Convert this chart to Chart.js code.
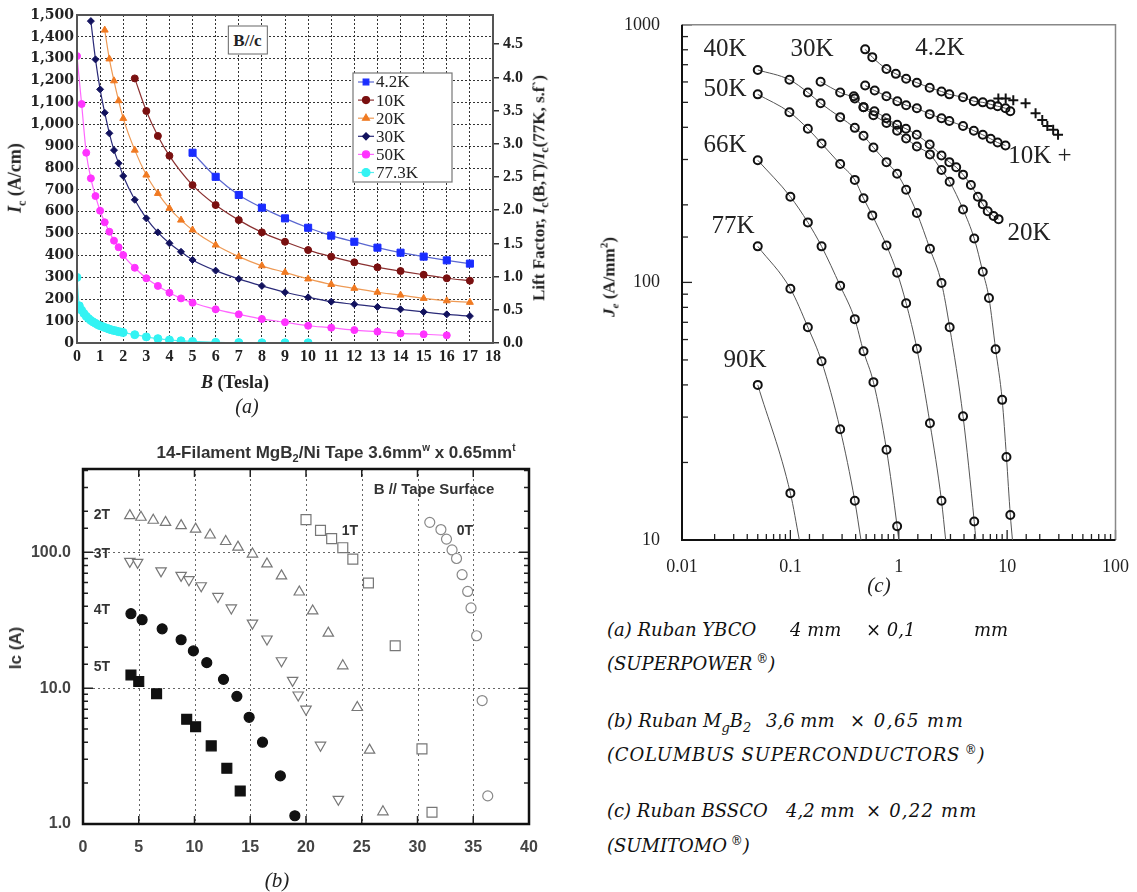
<!DOCTYPE html>
<html>
<head>
<meta charset="utf-8">
<script src="https://cdn.jsdelivr.net/npm/chart.js@4.4.1/dist/chart.umd.min.js"></script>
<style>
  body { margin: 0; background: #fff; width: 1137px; height: 892px; position: relative; overflow: hidden; }
  canvas { position: absolute; }
  .t { position: absolute; white-space: nowrap; transform: translate(-50%, -50%); line-height: 1; }
  .cap { position: absolute; white-space: nowrap; font-family: 'DejaVu Serif', serif; font-style: italic; font-size: 18px; color: #111; line-height: 1; }
</style>
</head>
<body>
<canvas id="chartA" width="590" height="400" style="left:0;top:0"></canvas>
<canvas id="chartB" width="560" height="440" style="left:0;top:440px"></canvas>
<canvas id="chartC" width="547" height="600" style="left:590px;top:0"></canvas>

<script>
// ---------- (a) YBCO tape: Ic (A/cm) vs B (Tesla), B//c ----------
const a42B  = [5,6,7,8,9,10,11,12,13,14,15,16,17];
const a42Ic = [870,760,677,619,570,527,491,463,436,413,395,378,363];
const a10B  = [2.5,3,3.5,4,5,6,7,8,9,10,11,12,13,14,15,16,17];
const a10Ic = [1210,1061,947,856,722,631,562,506,463,425,395,369,346,329,312,296,285];
const a20B  = [1.2,1.4,1.6,1.8,2,2.5,3,3.5,4,4.5,5,6,7,8,9,10,11,12,13,14,15,16,17];
const a20Ic = [1431,1299,1199,1108,1027,882,768,684,616,562,517,448,395,353,323,293,268,250,232,219,204,193,186];
const a30B  = [0.6,0.8,1,1.2,1.4,1.6,1.8,2,2.5,3,3.5,4,4.5,5,6,7,8,9,10,11,12,13,14,15,16,17];
const a30Ic = [1472,1297,1160,1053,959,882,822,764,655,570,506,456,417,380,331,293,261,232,209,189,177,165,154,142,131,123];
const a50B  = [0,0.2,0.4,0.6,0.8,1,1.2,1.4,1.6,1.8,2,2.5,3,3.5,4,4.5,5,6,7,8,9,10,11,12,13,14,15,16];
const a50Ic = [1312,1093,870,753,672,605,552,509,468,438,402,344,296,261,230,204,184,154,131,110,95,79,70,59,52,44,40,35];
const a77B  = [0,0.1,0.2,0.3,0.4,0.5,0.6,0.7,0.8,0.9,1,1.1,1.2,1.3,1.4,1.5,1.6,1.7,1.8,1.9,2,2.5,3,3.5,4,4.5,5,6,7,8,9,10];
const a77Ic = [300,170,150,135,122,112,103,96,90,84,79,75,71,67,63,60,57,55,52,50,48,38,28,20,14,10,7,3,2,1,1,1];
const aLiftTicks = [0,0.5,1,1.5,2,2.5,3,3.5,4,4.5];

// ---------- (b) MgB2 tape: Ic (A) vs temperature, one set per field ----------
const b2T_x  = [4.2,5.2,6.3,7.4,8.8,10.1,11.4,12.8,13.9,15.2,16.5,17.8,19.4,20.6,22.0,23.3,24.6,25.7,26.9];
const b2T_y  = [186,181,172,166,157,148,134,120,109,97,82,67,51,37,25.4,14.6,7.2,3.5,1.23];
const b3T_x  = [4.2,4.9,7.0,8.8,9.5,10.6,12.1,13.3,15.2,16.5,17.8,18.8,19.3,20.0,21.3,22.9];
const b3T_y  = [85.7,84.3,73,67.6,62.8,56.7,47.3,38.9,30.1,23,15.9,11.4,8.9,7.0,3.8,1.52];
const b4T_x  = [4.3,5.3,7.1,8.8,9.9,11.1,12.6,13.8,14.9,16.1,17.7,19.0];
const b4T_y  = [35.3,31.9,27.3,22.7,18.8,15.4,11.6,8.7,6.1,4.0,2.26,1.15];
const b5T_x  = [4.3,5.0,6.6,9.3,10.1,11.5,12.9,14.1];
const b5T_y  = [12.5,11.2,9.1,5.9,5.2,3.76,2.57,1.75];
const b1T_x  = [20.0,21.3,22.3,23.3,24.2,25.6,28.0,30.4,31.3];
const b1T_y  = [174,145,126,108,89,59.4,20.5,3.57,1.22];
const b0T_x  = [31.1,32.1,32.6,33.1,33.5,34.0,34.5,34.8,35.3,35.8,36.3];
const b0T_y  = [166,147,125,104,90,68.4,51.5,38.9,24.3,8.1,1.61];

// ---------- (c) BSCCO tape: Je (A/mm2) vs B, log-log ----------
const c42B  = [0.49,0.57,0.77,0.94,1.17,1.47,1.93,2.48,2.93,3.92,4.93,5.96,7.06,8.17,9.66,10.7];
const c42J  = [803,749,674,645,617,596,570,551,537,523,505,500,491,483,474,462];
const c42pB = [8.3,9.7,11.4,14.8,18.3,21.1,23.5,26.6,29.5];
const c42pJ = [518,518,509,496,454,427,405,391,374];
const c10B  = [0.49,0.6,0.77,0.97,1.17,1.47,1.93,2.48,2.93,3.92,4.93,5.96,7.05,8.17,9.66];
const c10J  = [581,556,528,505,487,474,450,434,423,405,388,374,361,349,340];
const c20B  = [0.385,0.473,0.596,0.767,0.966,1.165,1.466,1.93,2.48,2.93,3.39,3.92,4.63,5.37,5.96,6.62,7.5,8.34];
const c20J  = [528,479,462,434,409,395,374,343,311,293,280,262,239,215,201,189,181,176];
const c30B  = [0.19,0.288,0.393,0.473,0.584,0.771,0.966,1.17,1.47,1.94,2.48,2.95,3.92,4.97,5.96,6.8,7.83,9.0,9.86,10.7,11.2];
const c30J  = [601,546,518,479,446,416,388,362,337,314,273,246,192,148,110,87,55,35,21,12.5,10];
const c40B  = [0.05,0.098,0.145,0.19,0.288,0.393,0.473,0.584,0.771,0.966,1.17,1.47,1.94,2.48,2.95,3.92,4.97,5.15];
const c40J  = [668,612,546,496,438,398,371,334,293,264,229,186,135,99.5,67,30.2,11.8,10];
const c50B  = [0.05,0.098,0.145,0.194,0.288,0.393,0.473,0.57,0.771,0.966,1.17,1.47,1.94,2.48,2.71];
const c50J  = [537,458,395,346,288,250,212,182,139,109,83,55.3,28.4,14.2,10];
const c66B  = [0.05,0.1,0.145,0.194,0.288,0.393,0.473,0.584,0.771,0.966,1.0];
const c66J  = [298,215,171,138,97,72,54,41,22.4,11.3,10];
const c77B  = [0.05,0.1,0.145,0.194,0.288,0.393,0.448];
const c77J  = [138,94.5,67,49.4,26.9,14.2,10];
const c90B  = [0.05,0.1,0.121];
const c90J  = [40,15.2,10];

const SERIF = "'Liberation Serif', 'Times New Roman', serif";
const SANS = "'Liberation Sans', Arial, sans-serif";

function pts(xs, ys) { return xs.map((x, i) => ({ x: x, y: ys[i] })); }

// overlay text helper (centered on x,y, page coords)
function addText(html, x, y, css, rot) {
  const d = document.createElement('div');
  d.className = 't';
  d.innerHTML = html;
  d.style.left = x + 'px';
  d.style.top = y + 'px';
  d.style.cssText += ';' + (css || '');
  if (rot) d.style.transform = 'translate(-50%,-50%) rotate(' + rot + 'deg)';
  document.body.appendChild(d);
}

// ================= chart (a) =================
function serA(label, xs, ys, mark, line, style, r) {
  return {
    label: label, data: pts(xs, ys), yAxisID: 'y',
    borderColor: line, borderWidth: 1.2, backgroundColor: mark,
    pointStyle: style, pointRadius: r, pointBorderColor: mark, pointBackgroundColor: mark,
    pointBorderWidth: 1, cubicInterpolationMode: 'monotone', fill: false
  };
}
const setsA = [
  serA('4.2K', a42B, a42Ic, '#1a2dff', '#5a67d0', 'rect', 5),
  serA('10K', a10B, a10Ic, '#7a1010', '#8a3030', 'circle', 3.5),
  serA('20K', a20B, a20Ic, '#f07a22', '#ee9a55', 'triangle', 4),
  serA('30K', a30B, a30Ic, '#12125e', '#2a2a78', 'rectRot', 3.5),
  serA('50K', a50B, a50Ic, '#ff33ff', '#ff66ff', 'circle', 3.5),
  serA('77.3K', a77B, a77Ic, '#33f3f3', '#55eeee', 'circle', 4)
];

const decorA = {
  id: 'decorA',
  afterDraw(chart) {
    const ctx = chart.ctx, a = chart.chartArea;
    ctx.save();
    ctx.strokeStyle = '#555'; ctx.lineWidth = 2;
    ctx.strokeRect(a.left, a.top, a.right - a.left, a.bottom - a.top);
    // legend box
    const lx = 353, ly = 73, lw = 99, lh = 109;
    ctx.fillStyle = '#fff'; ctx.fillRect(lx, ly, lw, lh);
    ctx.strokeStyle = '#777'; ctx.lineWidth = 1.2; ctx.strokeRect(lx, ly, lw, lh);
    ctx.font = '17px ' + SERIF; ctx.textBaseline = 'middle';
    chart.data.datasets.forEach((ds, i) => {
      const y = 82 + i * 18.1;
      ctx.strokeStyle = ds.borderColor; ctx.lineWidth = 1.2;
      ctx.beginPath(); ctx.moveTo(358, y); ctx.lineTo(374, y); ctx.stroke();
      ctx.fillStyle = ds.pointBackgroundColor; ctx.strokeStyle = ds.pointBorderColor;
      Chart.helpers.drawPoint(ctx, { pointStyle: ds.pointStyle, radius: Math.min(ds.pointRadius, 4), borderWidth: 1 }, 366, y);
      ctx.fillStyle = '#222';
      ctx.fillText(ds.label, 376, y + 1);
    });
    ctx.restore();
  }
};

new Chart(document.getElementById('chartA'), {
  type: 'line',
  data: { datasets: setsA },
  options: {
    responsive: false, animation: false,
    layout: { padding: { top: 15, left: 0, right: 0, bottom: 0 } },
    plugins: { legend: { display: false }, tooltip: { enabled: false } },
    scales: {
      x: {
        type: 'linear', min: 0, max: 18,
        ticks: { stepSize: 1, autoSkip: false, maxRotation: 0, padding: 4, color: '#222',
                 font: { family: SERIF, weight: 'bold', size: 16 } },
        grid: { color: '#333', lineWidth: 1, drawTicks: false },
        border: { display: false, dash: [2, 2] },
        afterFit: s => { s.height = 57; }
      },
      y: {
        position: 'left', min: 0, max: 1500,
        ticks: { stepSize: 100, autoSkip: false, padding: 3, color: '#222',
                 font: { family: "'DejaVu Serif', serif", weight: 'bold', size: 14 },
                 callback: v => v.toLocaleString('en-US') },
        grid: { color: '#333', lineWidth: 1, drawTicks: false },
        border: { display: false, dash: [2, 2] },
        afterFit: s => { s.width = 77; }
      },
      y2: {
        position: 'right', min: 0, max: 4.94, display: true,
        afterBuildTicks: s => { s.ticks = aLiftTicks.map(v => ({ value: v })); },
        ticks: { autoSkip: false, padding: 4, color: '#222',
                 font: { family: SERIF, weight: 'bold', size: 16 },
                 callback: v => Number(v).toFixed(1) },
        grid: { drawOnChartArea: false, drawTicks: true, tickLength: 6, color: '#333', lineWidth: 1.5 },
        border: { display: false },
        afterFit: s => { s.width = 97; }
      }
    }
  },
  plugins: [decorA]
});

addText('B//c', 247.5, 39.5, "font:bold 17px " + SERIF + ";border:1.5px solid #666;padding:4px 5px 3px;color:#222;background:#fff");
addText('<i>I</i><sub style="font-size:12px">c</sub> (A/cm)', 17, 178, "font:bold 18px " + SERIF + ";color:#222", -90);
addText('Lift Factor, <i>I</i><sub style="font-size:12px">c</sub>(B,T)/<i>I</i><sub style="font-size:12px">c</sub>(77K, s.f`)', 541, 188, "font:bold 17px " + SERIF + ";color:#222", -90);
addText('<i>B</i> (Tesla)', 235, 382, "font:bold 18px " + SERIF + ";color:#222");
addText('<i>(a)</i>', 247, 406, "font:20px " + SERIF + ";color:#222");

// ================= chart (b) =================
function serB(label, xs, ys, style, rot, r, fill, stroke) {
  return {
    label: label, data: pts(xs, ys), showLine: false,
    pointStyle: style, pointRotation: rot, pointRadius: r,
    pointBackgroundColor: fill, pointBorderColor: stroke, pointBorderWidth: 1.2
  };
}
const setsB = [
  serB('2T', b2T_x, b2T_y, 'triangle', 0, 6, '#fff', '#777'),
  serB('3T', b3T_x, b3T_y, 'triangle', 180, 6, '#fff', '#777'),
  serB('4T', b4T_x, b4T_y, 'circle', 0, 5, '#111', '#111'),
  serB('5T', b5T_x, b5T_y, 'rect', 0, 7, '#111', '#111'),
  serB('1T', b1T_x, b1T_y, 'rect', 0, 7, '#fff', '#777'),
  serB('0T', b0T_x, b0T_y, 'circle', 0, 5, '#fff', '#888')
];
const isDecade = v => { const l = Math.log10(v); return Math.abs(l - Math.round(l)) < 1e-6; };

const decorB = {
  id: 'decorB',
  beforeDatasetsDraw(chart) {
    const ctx = chart.ctx, a = chart.chartArea, xs = chart.scales.x, ys = chart.scales.y;
    ctx.save();
    ctx.strokeStyle = '#666'; ctx.lineWidth = 1; ctx.setLineDash([2, 3]);
    xs.ticks.forEach(t => {
      if (t.value <= 0 || t.value >= 40) return;
      const px = Math.round(xs.getPixelForValue(t.value)) + 0.5;
      ctx.beginPath(); ctx.moveTo(px, a.top); ctx.lineTo(px, a.bottom); ctx.stroke();
    });
    [10, 100].forEach(v => {
      const py = Math.round(ys.getPixelForValue(v)) + 0.5;
      ctx.beginPath(); ctx.moveTo(a.left, py); ctx.lineTo(a.right, py); ctx.stroke();
    });
    ctx.setLineDash([]);
    ctx.strokeStyle = '#222'; ctx.lineWidth = 1.5;
    xs.ticks.forEach(t => {
      const px = xs.getPixelForValue(t.value);
      ctx.beginPath(); ctx.moveTo(px, a.top); ctx.lineTo(px, a.top + 8);
      ctx.moveTo(px, a.bottom); ctx.lineTo(px, a.bottom - 8); ctx.stroke();
    });
    ys.ticks.forEach(t => {
      const py = ys.getPixelForValue(t.value), len = isDecade(t.value) ? 10 : 5;
      ctx.beginPath(); ctx.moveTo(a.left, py); ctx.lineTo(a.left + len, py);
      ctx.moveTo(a.right, py); ctx.lineTo(a.right - len, py); ctx.stroke();
    });
    ctx.lineWidth = 2.5; ctx.strokeStyle = '#111';
    ctx.strokeRect(a.left, a.top, a.right - a.left, a.bottom - a.top);
    ctx.restore();
  }
};

new Chart(document.getElementById('chartB'), {
  type: 'scatter',
  data: { datasets: setsB },
  options: {
    responsive: false, animation: false,
    layout: { padding: { top: 29, right: 31, left: 0, bottom: 0 } },
    plugins: { legend: { display: false }, tooltip: { enabled: false } },
    scales: {
      x: {
        type: 'linear', min: 0, max: 40,
        ticks: { stepSize: 5, autoSkip: false, maxRotation: 0, padding: 6, color: '#444',
                 font: { family: SANS, weight: 'bold', size: 16 } },
        grid: { display: false }, border: { display: false },
        afterFit: s => { s.height = 56; }
      },
      y: {
        type: 'logarithmic', min: 1, max: 410,
        ticks: { autoSkip: false, padding: 4, color: '#444',
                 font: { family: SANS, weight: 'bold', size: 16 },
                 callback: v => isDecade(v) ? Number(v).toFixed(1) : '' },
        grid: { display: false }, border: { display: false },
        afterFit: s => { s.width = 83; }
      }
    }
  },
  plugins: [decorB]
});

addText('14-Filament MgB<sub style="font-size:11px">2</sub>/Ni Tape 3.6mm<sup style="font-size:10px">w</sup> x 0.65mm<sup style="font-size:10px">t</sup>', 336, 453, "font:bold 17px " + SANS + ";color:#333");
addText('B // Tape Surface', 434, 488, "font:bold 15px " + SANS + ";color:#333");
addText('2T', 102, 514, "font:bold 14px " + SANS + ";color:#333");
addText('3T', 102, 553, "font:bold 14px " + SANS + ";color:#333");
addText('4T', 102, 609, "font:bold 14px " + SANS + ";color:#333");
addText('5T', 102, 666, "font:bold 14px " + SANS + ";color:#333");
addText('1T', 350, 530, "font:bold 14px " + SANS + ";color:#333");
addText('0T', 465, 530, "font:bold 14px " + SANS + ";color:#333");
addText('Ic (A)', 16, 648, "font:bold 17px " + SANS + ";color:#333", -90);
addText('<i>(b)</i>', 277, 880, "font:21px " + SERIF + ";color:#222");

// ================= chart (c) =================
function serC(xs, ys, style) {
  const n = xs.length;
  // last point of each descending curve sits on the 10 A/mm2 floor: line only, no marker
  const r = xs.map((x, i) => (style === 'circle' && ys[i] <= 10 && i === n - 1) ? 0 : (style === 'cross' ? 5 : 4));
  return {
    data: pts(xs, ys), showLine: style === 'circle', borderColor: '#555', borderWidth: 1,
    pointStyle: style, pointRadius: r, pointBorderColor: '#111', pointBorderWidth: 2,
    pointBackgroundColor: 'rgba(255,255,255,0)', cubicInterpolationMode: 'monotone'
  };
}
const setsC = [
  serC(c42B, c42J, 'circle'), serC(c42pB, c42pJ, 'cross'),
  serC(c10B, c10J, 'circle'), serC(c20B, c20J, 'circle'), serC(c30B, c30J, 'circle'),
  serC(c40B, c40J, 'circle'), serC(c50B, c50J, 'circle'), serC(c66B, c66J, 'circle'),
  serC(c77B, c77J, 'circle'), serC(c90B, c90J, 'circle')
];
const fmtLog = v => v >= 1 ? String(Math.round(v)) : String(Number(Number(v).toPrecision(1)));

const decorC = {
  id: 'decorC',
  beforeDatasetsDraw(chart) {
    const ctx = chart.ctx, a = chart.chartArea, xs = chart.scales.x, ys = chart.scales.y;
    ctx.save();
    ctx.strokeStyle = '#222'; ctx.lineWidth = 1.3;
    xs.ticks.forEach(t => {
      const px = xs.getPixelForValue(t.value), len = isDecade(t.value) ? 10 : 6;
      ctx.beginPath(); ctx.moveTo(px, a.bottom); ctx.lineTo(px, a.bottom - len); ctx.stroke();
    });
    ys.ticks.forEach(t => {
      const py = ys.getPixelForValue(t.value), len = isDecade(t.value) ? 10 : 6;
      ctx.beginPath(); ctx.moveTo(a.left, py); ctx.lineTo(a.left + len, py); ctx.stroke();
    });
    ctx.strokeStyle = '#888'; ctx.lineWidth = 1.5;
    ctx.beginPath(); ctx.moveTo(a.left, a.top); ctx.lineTo(a.right, a.top); ctx.lineTo(a.right, a.bottom); ctx.stroke();
    ctx.strokeStyle = '#111'; ctx.lineWidth = 2;
    ctx.beginPath(); ctx.moveTo(a.left, a.top); ctx.lineTo(a.left, a.bottom); ctx.lineTo(a.right, a.bottom); ctx.stroke();
    ctx.restore();
  }
};

new Chart(document.getElementById('chartC'), {
  type: 'scatter',
  data: { datasets: setsC },
  options: {
    responsive: false, animation: false,
    layout: { padding: { top: 15, right: 15, left: 0, bottom: 0 } },
    plugins: { legend: { display: false }, tooltip: { enabled: false } },
    scales: {
      x: {
        type: 'logarithmic', min: 0.01, max: 100,
        ticks: { autoSkip: false, maxRotation: 0, padding: 8, color: '#222',
                 font: { family: SERIF, size: 18 }, callback: v => isDecade(v) ? fmtLog(v) : '' },
        grid: { display: false }, border: { display: false },
        afterFit: s => { s.height = 60; }
      },
      y: {
        type: 'logarithmic', min: 10, max: 1000,
        ticks: { autoSkip: false, padding: 14, color: '#222',
                 font: { family: SERIF, size: 18 }, callback: v => isDecade(v) ? fmtLog(v) : '' },
        grid: { display: false }, border: { display: false },
        afterFit: s => { s.width = 92; }
      }
    }
  },
  plugins: [decorC]
});

const lab = "font:25px " + SERIF + ";color:#222";
addText('40K', 725, 48, lab);
addText('30K', 812, 48, lab);
addText('4.2K', 940, 47, lab);
addText('50K', 725, 88, lab);
addText('66K', 725, 144, lab);
addText('77K', 733, 225, lab);
addText('90K', 745, 359, lab);
addText('10K +', 1040, 155, lab);
addText('20K', 1029, 232, lab);
addText('<i>J<sub style="font-size:11px">e</sub></i> (A/mm<sup style="font-size:11px">2</sup>)', 609, 277, "font:bold 17px " + SERIF + ";color:#222", -90);
addText('<i>(c)</i>', 879, 585, "font:21px " + SERIF + ";color:#222");

// ---------- captions (segments placed where they sit in the figure) ----------
const sub = s => '<sub style="font-size:13px">' + s + '</sub>';
const reg = '<sup style="font-size:12px">&nbsp;®</sup>';
const caps = [
  ['(a) Ruban YBCO', 607, 621], ['4 mm', 790, 621], ['× 0,1', 866, 621], ['mm', 974, 621],
  ['(SUPERPOWER' + reg + ')', 607, 653, 0],
  ['(b) Ruban M' + sub('g') + 'B' + sub('2'), 607, 712], ['3,6 mm', 766, 712], ['× 0,65 mm', 850, 712, 1.5],
  ['(COLUMBUS SUPERCONDUCTORS' + reg + ')', 607, 744, 0.8],
  ['(c) Ruban BSSCO', 607, 802], ['4,2 mm', 786, 802], ['× 0,22 mm', 866, 802, 1.2],
  ['(SUMITOMO' + reg + ')', 607, 835, 0]
];
caps.forEach(c => {
  const d = document.createElement('div');
  d.className = 'cap'; d.innerHTML = c[0];
  d.style.left = c[1] + 'px'; d.style.top = c[2] + 'px';
  if (c[3]) d.style.letterSpacing = c[3] + 'px';
  document.body.appendChild(d);
});
</script>
</body>
</html>
